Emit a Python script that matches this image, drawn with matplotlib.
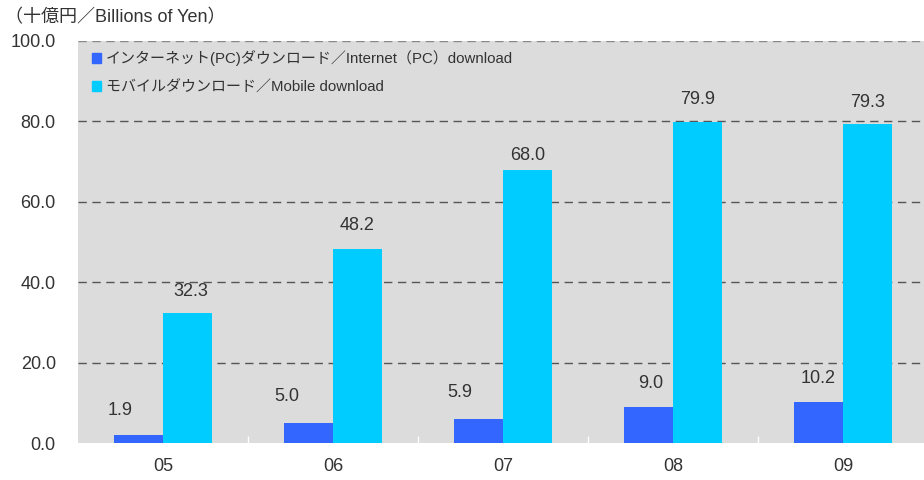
import matplotlib
matplotlib.use("Agg")
import matplotlib.pyplot as plt
import numpy as np
from matplotlib.patches import Patch

plt.rcParams['font.family'] = ['Liberation Sans', 'Noto Sans CJK JP', 'DejaVu Sans']

categories = ["05", "06", "07", "08", "09"]
pc_values = [1.9, 5.0, 5.9, 9.0, 10.2]
mobile_values = [32.3, 48.2, 68.0, 79.9, 79.3]
yticks = [0, 20, 40, 60, 80, 100]

pc_label = "インターネット(PC)ダウンロード／Internet（PC）download"
mobile_label = "モバイルダウンロード／Mobile download"
unit_label = "（十億円／Billions of Yen）"

# label placement offsets (pixels), as hand-placed in the original
pc_dx = [-18, -22, -19, 2, 0]
pc_dy = [25, 26, 27, 23, 23]
mob_dx = [3, 0, 0, 0, 0]
mob_dy = [22, 24, 14, 22, 22]

txt = "#333333"
c_pc = "#3366ff"
c_mob = "#00ccff"

fig = plt.figure(figsize=(9.24, 4.8), dpi=100)
ax = fig.add_axes([78/924, 37/480, 846/924, 402/480])
ax.set_facecolor("#dcdcdc")

x = np.arange(len(categories))
w = 0.288
ax.bar(x - w/2, pc_values, w, color=c_pc, zorder=3)
ax.bar(x + w/2, mobile_values, w, color=c_mob, zorder=3)

for xi, v, dx, dy in zip(x, pc_values, pc_dx, pc_dy):
    ax.annotate(f"{v:.1f}", (xi - w/2, v), xytext=(dx, dy), textcoords="offset pixels",
                ha="center", va="center", fontsize=13, color=txt, zorder=4)
for xi, v, dx, dy in zip(x, mobile_values, mob_dx, mob_dy):
    ax.annotate(f"{v:.1f}", (xi + w/2, v), xytext=(dx, dy), textcoords="offset pixels",
                ha="center", va="center", fontsize=13, color=txt, zorder=4)

ax.set_xlim(-0.5, -0.5 + 846/170)
ax.set_ylim(0, 100)
ax.set_yticks(yticks)
ax.set_yticklabels([f"{t:.1f}" for t in yticks])
ax.set_xticks(x)
ax.set_xticklabels(categories)
ax.tick_params(axis='y', length=0, pad=16, labelsize=13, labelcolor=txt)
ax.tick_params(axis='x', length=0, pad=11, labelsize=13, labelcolor=txt)
ax.set_xticks(x[:-1] + 0.5, minor=True)
ax.tick_params(axis='x', which='minor', direction='in', length=5, color='white', width=1)

for t in yticks[1:]:
    ax.axhline(t, color="#555555" if t < 100 else "#888888", lw=1, ls=(0, (6, 4)), zorder=2)

for s in ax.spines.values():
    s.set_visible(False)

handles = [Patch(color=c_pc), Patch(color=c_mob)]
ax.legend(handles, [pc_label, mobile_label], loc="upper left", bbox_to_anchor=(0.0, 1.01),
          frameon=False, fontsize=10.8, handlelength=0.65, handleheight=0.65, handletextpad=0.3,
          labelspacing=0.9, labelcolor=txt)

fig.text(5/924, 1 - 18/480, unit_label, fontsize=13, color=txt, va="center", ha="left")

fig.savefig("out.png", dpi=100)
